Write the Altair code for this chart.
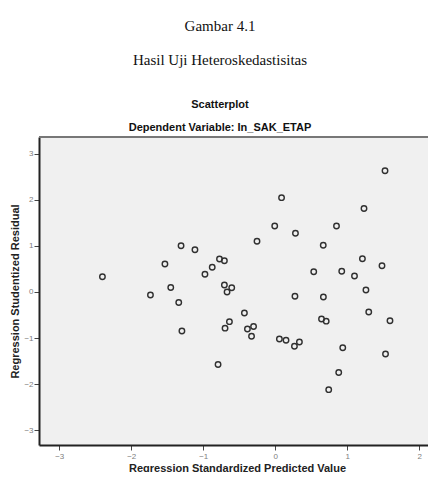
import altair as alt
import pandas as pd

# Regression standardized predicted value (x) and studentized residual (y)
pred = [-2.40, -1.733, -1.532, -1.451, -1.340, -1.308, -1.296, -1.115, -0.976, -0.875,
        -0.794, -0.774, -0.706, -0.706, -0.669, -0.604, -0.697, -0.636, -0.428, -0.386,
        -0.301, -0.329, -0.253, -0.007, 0.088, 0.058, 0.150, 0.281, 0.274, 0.267,
        0.336, 0.535, 0.643, 0.708, 0.669, 0.667, 0.743, 0.851, 0.882, 0.924,
        0.938, 1.101, 1.211, 1.233, 1.260, 1.299, 1.483, 1.525, 1.532, 1.594]
resid = [0.33, -0.065, 0.607, 0.098, -0.228, 1.004, -0.846, 0.915, 0.384, 0.538,
         -1.573, 0.716, 0.679, 0.152, 0.0, 0.093, -0.785, -0.644, -0.456, -0.803,
         -0.748, -0.959, 1.100, 1.432, 2.046, -1.020, -1.046, 1.273, -0.091, -1.176,
         -1.085, 0.438, -0.586, -0.633, -0.108, 1.015, -2.119, 1.432, -1.746, 0.449,
         -1.210, 0.347, 0.722, 1.811, 0.043, -0.434, 0.570, 2.631, -1.345, -0.625]

x_ticks = [-3, -2, -1, 0, 1, 2]
y_ticks = [-3, -2, -1, 0, 1, 2, 3]

title1 = "Gambar  4.1"
title2 = "Hasil Uji Heteroskedastisitas"
title3 = "Scatterplot"
title4 = "Dependent Variable: In_SAK_ETAP"
x_title = "Regression Standardized Predicted Value"
y_title = "Regression Studentized Residual"

W, H = 389, 308

df = pd.DataFrame({"pred": pred, "resid": resid})

points = alt.Chart(df).mark_point(
    shape="circle", filled=False, size=30, strokeWidth=1.4,
    color="#303030", opacity=1
).encode(
    x=alt.X("pred:Q",
            scale=alt.Scale(domain=[-3.281, 2.122], nice=False, zero=False),
            axis=alt.Axis(values=x_ticks, title=x_title, format="d",
                          titleY=26, titleBaseline="alphabetic",
                          titleX=198,
                          titleFontSize=11, titleFontWeight="bold",
                          titleColor="#222222", titleFont="Liberation Sans",
                          labelPadding=2)),
    y=alt.Y("resid:Q",
            scale=alt.Scale(domain=[-3.319, 3.362], nice=False, zero=False),
            axis=alt.Axis(values=y_ticks, title=y_title, format="d",
                          titleX=-24, titleY=H / 2, titleBaseline="middle",
                          titleAngle=-90,
                          titleFontSize=11, titleFontWeight="bold",
                          titleColor="#222222", titleFont="Liberation Sans",
                          labelPadding=1))
)

top_line = alt.Chart(df).mark_rule(color="#777777", strokeWidth=2).encode(
    x=alt.value(0), x2=alt.value(W), y=alt.value(0)
)

def txt(s, y, font, size, weight="normal", color="#111111"):
    return alt.Chart(pd.DataFrame({"t": [s]})).mark_text(
        font=font, fontSize=size, fontWeight=weight, color=color,
        align="center", baseline="alphabetic"
    ).encode(text="t:N", x=alt.value(181), y=alt.value(y))

t1 = txt(title1, -106, "Liberation Serif", 15)
t2 = txt(title2, -72, "Liberation Serif", 15)
t3 = txt(title3, -29, "Liberation Sans", 11, "bold")
t4 = txt(title4, -6, "Liberation Sans", 11, "bold")

chart = alt.layer(points, top_line, t1, t2, t3, t4).properties(
    width=W, height=H,
    autosize=alt.AutoSizeParams(type="none"),
    padding={"left": 31, "top": 129, "right": 0, "bottom": 27},
    background="white"
).configure_view(
    fill="#f0f0f0", strokeWidth=0
).configure_axis(
    grid=False,
    domainColor="#222222", domainWidth=2,
    tickColor="#444444", tickSize=5, tickWidth=1,
    labelColor="#808080", labelFontSize=8, labelFont="Liberation Sans"
)

chart.save("out.html", embed_options={"renderer": "svg", "actions": False})
